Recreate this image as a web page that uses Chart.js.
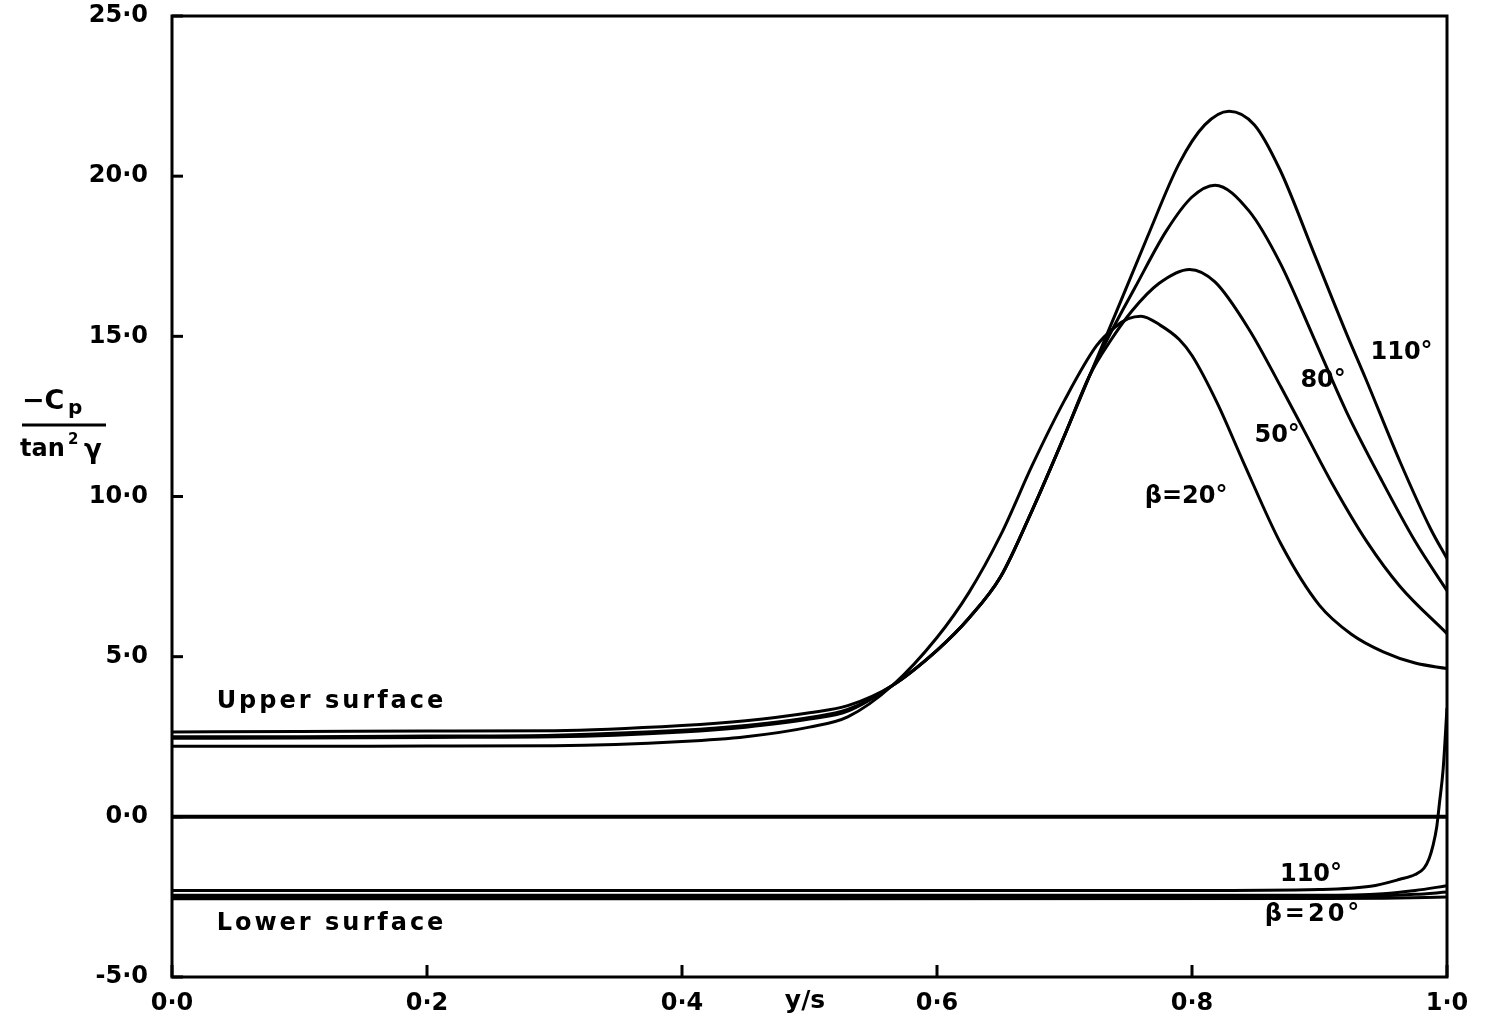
<!DOCTYPE html>
<html>
<head>
<meta charset="utf-8">
<script src="https://cdn.jsdelivr.net/npm/chart.js@4.4.1/dist/chart.umd.min.js"></script>
<style>
  html, body { margin: 0; padding: 0; background: #fff; }
  #wrap { width: 1487px; height: 1023px; }
</style>
</head>
<body>
<div id="wrap"><canvas id="cpChart" width="1487" height="1023"></canvas></div>
<script>
// y/s positions and -Cp/tan^2(gamma) values
// upper surface
const xU110 = [0, 0.1, 0.2, 0.3, 0.4, 0.45, 0.5, 0.53, 0.565, 0.6, 0.625, 0.65, 0.675, 0.7, 0.72, 0.74, 0.765, 0.79, 0.81, 0.829, 0.849, 0.869, 0.895, 0.921, 0.936, 0.963, 0.987, 1.0]
const yU110 = [2.65, 2.66, 2.68, 2.69, 2.85, 3.0, 3.25, 3.47, 4.1, 5.2, 6.2, 7.5, 9.6, 11.9, 13.8, 15.7, 18.1, 20.4, 21.6, 22.03, 21.6, 20.2, 17.66, 15.1, 13.7, 11.1, 9.0, 8.06]
const xU80 = [0, 0.1, 0.2, 0.3, 0.4, 0.45, 0.5, 0.53, 0.565, 0.6, 0.625, 0.65, 0.675, 0.7, 0.72, 0.74, 0.755, 0.78, 0.8, 0.818, 0.845, 0.869, 0.895, 0.921, 0.948, 0.975, 1.0]
const yU80 = [2.5, 2.5, 2.52, 2.55, 2.7, 2.85, 3.1, 3.35, 4.1, 5.2, 6.2, 7.5, 9.6, 11.9, 13.8, 15.4, 16.5, 18.3, 19.35, 19.72, 18.9, 17.3, 15.0, 12.66, 10.56, 8.6, 7.06]
const xU50 = [0, 0.1, 0.2, 0.3, 0.4, 0.45, 0.5, 0.53, 0.565, 0.6, 0.625, 0.65, 0.675, 0.7, 0.72, 0.735, 0.753, 0.774, 0.798, 0.818, 0.845, 0.87, 0.89, 0.91, 0.937, 0.963, 1.0]
const yU50 = [2.45, 2.46, 2.48, 2.5, 2.65, 2.8, 3.05, 3.3, 4.1, 5.2, 6.2, 7.5, 9.6, 11.9, 13.8, 14.8, 15.8, 16.65, 17.09, 16.7, 15.2, 13.4, 11.9, 10.4, 8.6, 7.2, 5.72]
const xU20 = [0, 0.1, 0.2, 0.3, 0.4, 0.45, 0.5, 0.53, 0.565, 0.6, 0.625, 0.65, 0.675, 0.7, 0.725, 0.74, 0.75, 0.76, 0.775, 0.79, 0.8, 0.82, 0.84, 0.87, 0.9, 0.925, 0.95, 0.975, 1.0]
const yU20 = [2.2, 2.2, 2.21, 2.22, 2.35, 2.5, 2.8, 3.12, 4.1, 5.6, 7.0, 8.8, 11.0, 13.0, 14.7, 15.3, 15.55, 15.63, 15.35, 14.9, 14.4, 12.9, 11.1, 8.5, 6.6, 5.7, 5.15, 4.8, 4.63]

// lower surface
const xL110 = [0, 0.3, 0.6, 0.8, 0.9, 0.94, 0.963, 0.975, 0.982, 0.986, 0.989, 0.992, 0.994, 0.997, 1.0]
const yL110 = [-2.3, -2.3, -2.3, -2.3, -2.27, -2.17, -1.95, -1.8, -1.6, -1.3, -0.9, -0.3, 0.4, 1.5, 3.4]
const xL80 = [0, 0.5, 0.9, 0.95, 0.975, 1.0]
const yL80 = [-2.45, -2.45, -2.45, -2.4, -2.3, -2.15]
const xL50 = [0, 0.5, 0.9, 0.95, 0.975, 1.0]
const yL50 = [-2.5, -2.5, -2.5, -2.47, -2.42, -2.35]
const xL20 = [0, 0.5, 0.9, 0.95, 1.0]
const yL20 = [-2.56, -2.56, -2.55, -2.54, -2.5]

// zero line
const xZero = [0, 1]
const yZero = [0, 0]

const curveLabels = [
    { text: 'Upper surface', x: 0.035, y: 3.6, spacing: 3 },
    { text: 'Lower surface', x: 0.035, y: -3.35, spacing: 3 },
    { text: 'β=20°', x: 0.763, y: 10.0, spacing: 0 },
    { text: '50°', x: 0.849, y: 11.9, spacing: 0 },
    { text: '80°', x: 0.885, y: 13.6, spacing: 0 },
    { text: '110°', x: 0.94, y: 14.5, spacing: 0 },
    { text: '110°', x: 0.869, y: -1.8, spacing: 0 },
    { text: 'β=20°', x: 0.857, y: -3.05, spacing: 3 }
]

const font = '"DejaVu Sans", sans-serif'

function pts(xs, ys) {
    return xs.map((x, i) => ({ x: x, y: ys[i] }))
}

function curve(xs, ys, width) {
    return {
        data: pts(xs, ys),
        borderColor: '#000',
        borderWidth: width || 3,
        pointRadius: 0,
        fill: false,
        cubicInterpolationMode: 'monotone'
    }
}

function fmt(v) {
    return v.toFixed(1).replace('.', '·')
}

//Frame, inward ticks, labels and the y title
const decorations = {
    id: 'decorations',
    afterDraw(chart) {
        const ctx = chart.ctx
        const a = chart.chartArea
        const xs = chart.scales.x
        const ys = chart.scales.y
        ctx.save()
        ctx.strokeStyle = '#000'
        ctx.lineWidth = 3
        ctx.strokeRect(a.left, a.top, a.right - a.left, a.bottom - a.top)

        ys.ticks.forEach(t => {
            const py = ys.getPixelForValue(t.value)
            ctx.beginPath()
            ctx.moveTo(a.left, py)
            ctx.lineTo(a.left + 11, py)
            ctx.stroke()
        })
        xs.ticks.forEach(t => {
            const px = xs.getPixelForValue(t.value)
            ctx.beginPath()
            ctx.moveTo(px, a.bottom)
            ctx.lineTo(px, a.bottom - 12)
            ctx.stroke()
        })

        ctx.fillStyle = '#000'
        ctx.textBaseline = 'middle'
        ctx.textAlign = 'left'
        ctx.font = 'bold 24px ' + font
        curveLabels.forEach(l => {
            ctx.letterSpacing = l.spacing + 'px'
            ctx.fillText(l.text, xs.getPixelForValue(l.x), ys.getPixelForValue(l.y))
        })
        ctx.letterSpacing = '0px'

        // x axis title
        ctx.font = 'bold 25px ' + font
        ctx.textAlign = 'center'
        ctx.fillText('y/s', 805, 1001)

        // y axis title as a fraction
        ctx.textAlign = 'left'
        ctx.font = 'bold 27px ' + font
        ctx.fillText('−C', 22, 402)
        ctx.font = 'bold 20px ' + font
        ctx.fillText('p', 68, 409)
        ctx.beginPath()
        ctx.moveTo(22, 425)
        ctx.lineTo(106, 425)
        ctx.stroke()
        ctx.font = 'bold 24px ' + font
        ctx.fillText('tan', 20, 450)
        ctx.font = 'bold 15px ' + font
        ctx.fillText('2', 68, 440)
        ctx.font = 'bold 26px ' + font
        ctx.fillText('γ', 84, 451)
        ctx.restore()
    }
}

new Chart(document.getElementById('cpChart'), {
    type: 'line',
    data: {
        datasets: [
            curve(xU110, yU110),
            curve(xU80, yU80),
            curve(xU50, yU50),
            curve(xU20, yU20),
            curve(xL110, yL110),
            curve(xL80, yL80),
            curve(xL50, yL50),
            curve(xL20, yL20),
            curve(xZero, yZero, 4)
        ]
    },
    options: {
        responsive: false,
        animation: false,
        layout: { padding: { top: 16, right: 40, left: 0, bottom: 0 } },
        plugins: {
            legend: { display: false },
            tooltip: { enabled: false }
        },
        scales: {
            x: {
                type: 'linear',
                min: 0,
                max: 1,
                afterFit: s => { s.height = 46; s.paddingLeft = 0; s.paddingRight = 0 },
                grid: { display: false, drawTicks: false },
                border: { display: false },
                ticks: {
                    stepSize: 0.2,
                    padding: 12,
                    color: '#000',
                    font: { family: font, size: 24, weight: 'bold' },
                    callback: v => fmt(v)
                }
            },
            y: {
                min: -5,
                max: 25,
                afterFit: s => { s.width = 172; s.paddingTop = 0; s.paddingBottom = 0 },
                grid: { display: false, drawTicks: false },
                border: { display: false },
                ticks: {
                    stepSize: 5,
                    padding: 24,
                    color: '#000',
                    font: { family: font, size: 24, weight: 'bold' },
                    callback: v => fmt(v)
                }
            }
        }
    },
    plugins: [decorations]
})
</script>
</body>
</html>
